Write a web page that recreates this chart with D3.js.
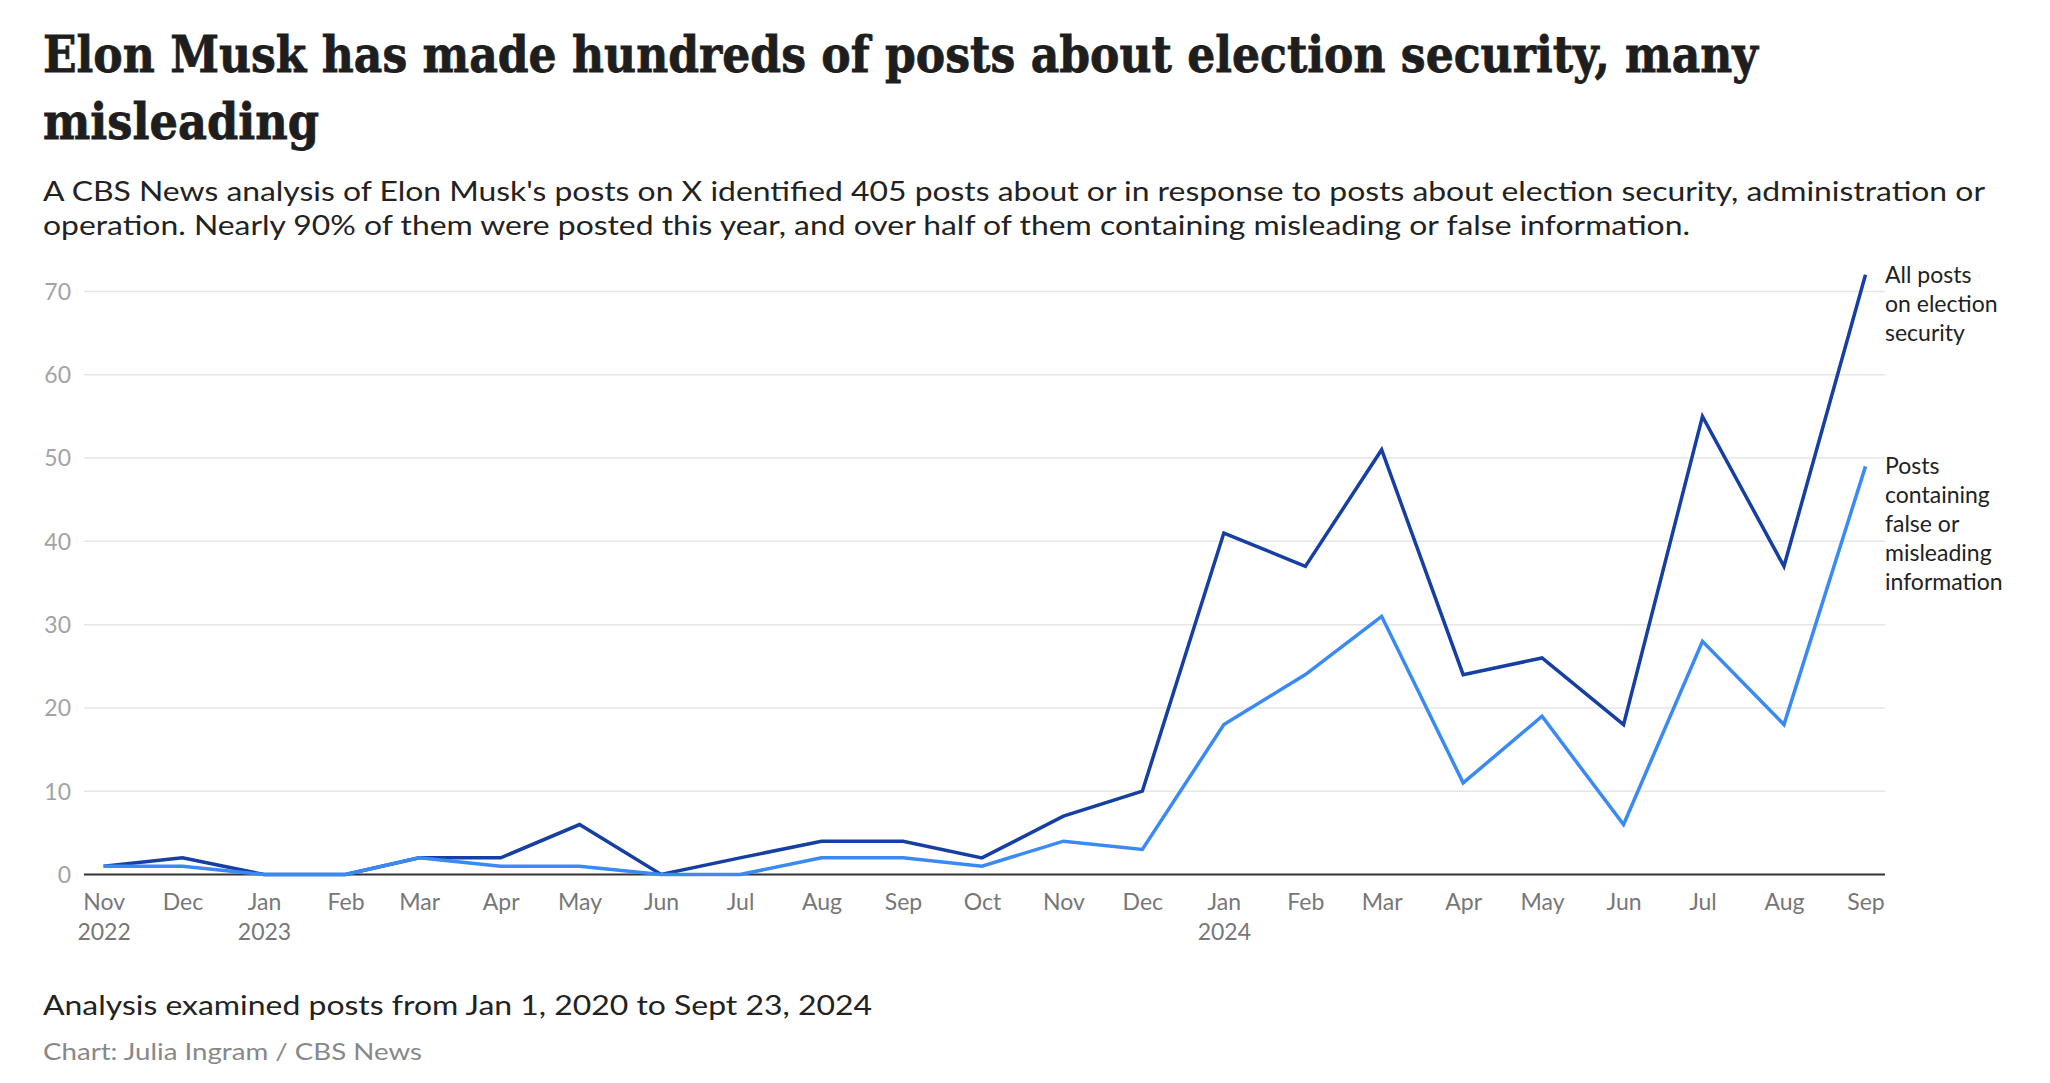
<!DOCTYPE html>
<html>
<head>
<meta charset="utf-8">
<script src="https://cdn.jsdelivr.net/npm/d3@7"></script>
<style>
  html, body { margin: 0; padding: 0; background: #fff; }
  svg { display: block; }
</style>
</head>
<body>
<svg id="chart" width="2050" height="1083"></svg>
<script>
// ---- Data ----
const months = ["2022-11","2022-12","2023-01","2023-02","2023-03","2023-04","2023-05","2023-06","2023-07","2023-08","2023-09","2023-10","2023-11","2023-12","2024-01","2024-02","2024-03","2024-04","2024-05","2024-06","2024-07","2024-08","2024-09"];
const allPosts = [1,2,0,0,2,2,6,0,2,4,4,2,7,10,41,37,51,24,26,18,55,37,72];
const falsePosts = [1,1,0,0,2,1,1,0,0,2,2,1,4,3,18,24,31,11,19,6,28,18,49];
const yTicks = [0,10,20,30,40,50,60,70];
const titleLines = ["Elon Musk has made hundreds of posts about election security, many", "misleading"];
const subtitleLines = ["A CBS News analysis of Elon Musk's posts on X identified 405 posts about or in response to posts about election security, administration or", "operation. Nearly 90% of them were posted this year, and over half of them containing misleading or false information."];
const noteText = "Analysis examined posts from Jan 1, 2020 to Sept 23, 2024";
const creditText = "Chart: Julia Ingram / CBS News";
const seriesLabels = [["All posts","on election","security"], ["Posts","containing","false or","misleading","information"]];

// ---- Setup ----
const svg = d3.select("#chart");
const sans = "Lato, 'Open Sans', 'Liberation Sans', sans-serif";
const parse = d3.timeParse("%Y-%m");
const dates = months.map(parse);

const x = d3.scaleTime().domain([dates[0], dates[dates.length-1]]).range([103.6, 1865.5]);
const y = d3.scaleLinear().domain([0, 70]).range([874.5, 291.5]);
const gridLeft = 84, gridRight = 1885;

// Title
const titleW = [1715, 276];
svg.selectAll("text.title").data(titleLines).join("text")
  .attr("class","title")
  .attr("x", 43).attr("y", (d,i) => 72 + i*67)
  .attr("font-family", "'DejaVu Serif', 'Liberation Serif', serif")
  .attr("font-weight", "bold")
  .attr("font-size", 50)
  .attr("fill", "#1e1e1e")
  .attr("stroke", "#1e1e1e").attr("stroke-width", 0.8)
  .attr("textLength", (d,i) => titleW[i])
  .attr("lengthAdjust", "spacingAndGlyphs")
  .text(d => d);

// Subtitle
const subW = [1942, 1647];
svg.selectAll("text.sub").data(subtitleLines).join("text")
  .attr("class","sub")
  .attr("x", 43).attr("y", (d,i) => 201 + i*34)
  .attr("font-family", sans)
  .attr("font-size", 27)
  .attr("fill", "#222")
  .attr("textLength", (d,i) => subW[i])
  .attr("lengthAdjust", "spacingAndGlyphs")
  .text(d => d);

// Gridlines
svg.append("g").selectAll("line").data(yTicks.filter(d => d > 0)).join("line")
  .attr("x1", gridLeft).attr("x2", gridRight)
  .attr("y1", d => y(d)).attr("y2", d => y(d))
  .attr("stroke", "#e6e6e6").attr("stroke-width", 1.5);

// Y axis labels
const yAxis = d3.axisLeft(y).tickValues(yTicks).tickSize(0).tickPadding(0);
const gy = svg.append("g").attr("transform", `translate(71,0)`).call(yAxis);
gy.select(".domain").remove();
gy.selectAll("text").attr("font-family", sans).attr("font-size", 23).attr("fill", "#a3a3a3").attr("dy", "0.34em");

// Zero baseline
svg.append("line").attr("x1", gridLeft).attr("x2", gridRight)
  .attr("y1", y(0)).attr("y2", y(0)).attr("stroke", "#333").attr("stroke-width", 2);

// X axis labels
const fmtMon = d3.timeFormat("%b");
const xAxis = d3.axisBottom(x).tickValues(dates).tickSize(0).tickPadding(0).tickFormat("");
const gx = svg.append("g").attr("transform", `translate(0,${y(0)})`).call(xAxis);
gx.select(".domain").remove();
gx.selectAll(".tick").each(function(d, i) {
  const t = d3.select(this).select("text")
    .attr("font-family", sans).attr("font-size", 23).attr("fill", "#777")
    .attr("y", 35).attr("dy", null);
  t.text(null);
  t.append("tspan").attr("x", 0).text(fmtMon(d));
  if (i === 0 || d.getMonth() === 0) {
    t.append("tspan").attr("x", 0).attr("dy", 30).text(d.getFullYear());
  }
});

// Lines
const line = d3.line().x((d,i) => x(dates[i])).y(d => y(d));
const colors = ["#163fa3", "#3a8af5"];
[allPosts, falsePosts].forEach((s, k) => {
  svg.append("path").datum(s)
    .attr("d", line)
    .attr("fill", "none")
    .attr("stroke", colors[k])
    .attr("stroke-width", 3.5)
    .attr("stroke-linejoin", "miter");
});

// End labels
[allPosts, falsePosts].forEach((s, k) => {
  const last = s[s.length-1];
  const t = svg.append("text")
    .attr("x", gridRight).attr("y", y(last))
    .attr("font-family", sans).attr("font-size", 23).attr("fill", "#222");
  seriesLabels[k].forEach((l, j) => {
    t.append("tspan").attr("x", gridRight).attr("dy", j === 0 ? "0.35em" : 29).text(l);
  });
});

// Footer
svg.append("text").attr("x", 43).attr("y", 1015)
  .attr("font-family", sans).attr("font-size", 27).attr("fill", "#222")
  .attr("textLength", 829).attr("lengthAdjust", "spacingAndGlyphs")
  .text(noteText);
svg.append("text").attr("x", 43).attr("y", 1060)
  .attr("font-family", sans).attr("font-size", 24).attr("fill", "#888")
  .attr("textLength", 379).attr("lengthAdjust", "spacingAndGlyphs")
  .text(creditText);
</script>
</body>
</html>
